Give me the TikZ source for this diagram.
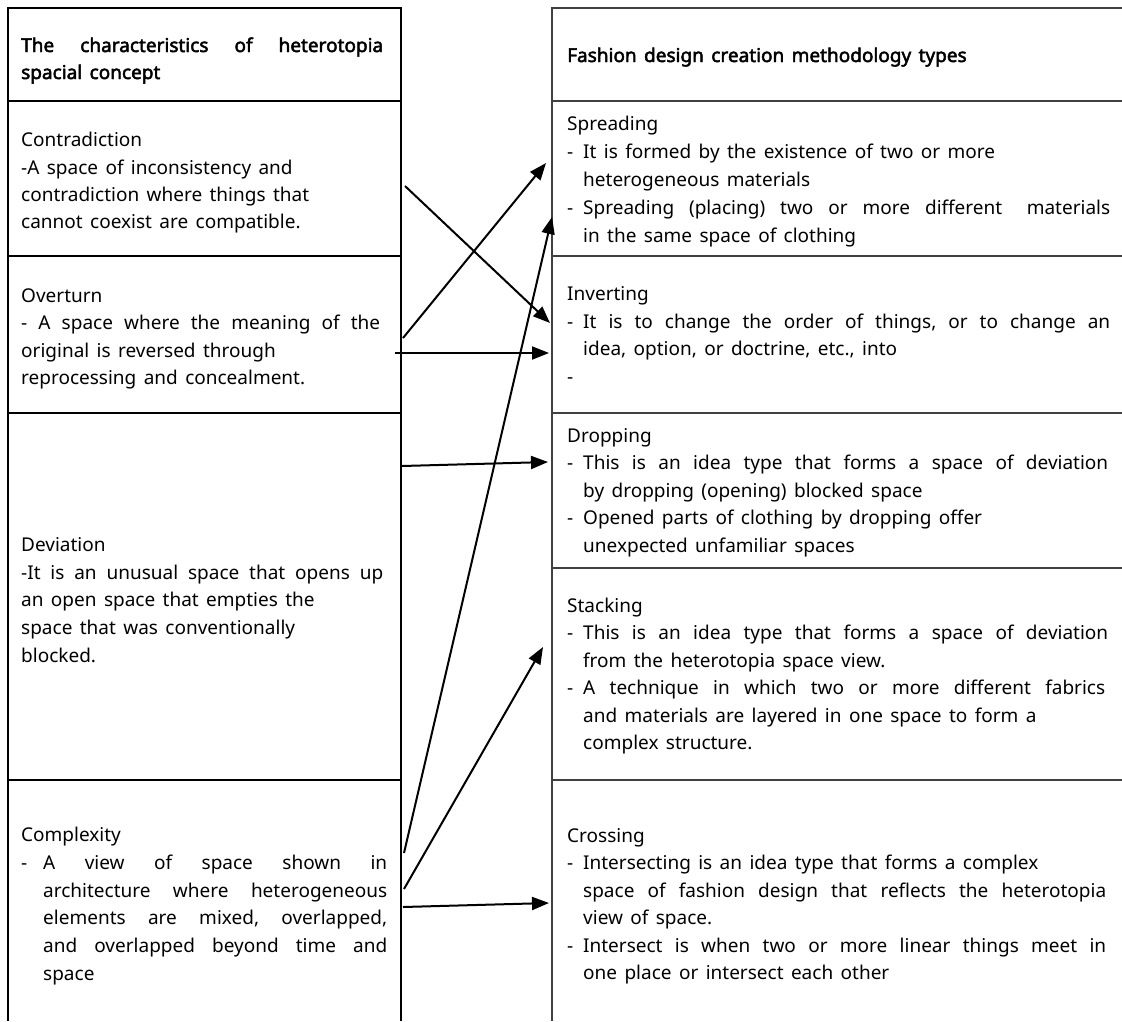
\documentclass[tikz,border=0pt]{standalone}
\usepackage{fontspec}
\setmainfont{Noto Sans}
\newfontfamily\hdfont{Noto Sans}[FakeBold=2.5]
\usetikzlibrary{arrows.meta}
\newcounter{tlc}
\newcommand\myglue{\hskip 7.4pt plus 4pt minus 1pt\relax}
\ExplSyntaxOn
\NewDocumentCommand \spfix { m }
  {
    \tl_set:Nn \l_tmpa_tl { #1 }
    \tl_replace_all:Nnn \l_tmpa_tl { ~ } { \myglue }
    \tl_use:N \l_tmpa_tl
  }
\ExplSyntaxOff
\newcommand\hd{\hdfont}
\newcommand\tline[3]{\stepcounter{tlc}\node[txt] (t\arabic{tlc}) at (#1,#2+6) {\spfix{#3}};}
\newcommand\tjust[4]{\stepcounter{tlc}\node[txt] (t\arabic{tlc}) at (#1,#2+6) {\makebox[#3pt][s]{\spfix{#4}}};}
\begin{document}
\begin{tikzpicture}[x=1pt,y=-1pt,
  txt/.style={anchor=base west, inner sep=0pt, font=\fontsize{19}{27}\selectfont},
  ltab/.style={line width=1.1pt, black},
  rtab/.style={line width=1.1pt, black!75},
  arr/.style={line width=2pt, -{Triangle[length=17pt,width=13pt]}}]
\useasboundingbox (0,0) rectangle (1122,1021);
% left table
\draw[ltab] (8,1021) -- (8,8) -- (401,8) -- (401,1021);
\foreach \yy in {101,256,413,780} \draw[ltab] (8,\yy) -- (401,\yy);
% right table
\draw[rtab] (552,1021) -- (552,8) -- (1122,8);
\foreach \yy in {101,256,413,568,780} \draw[rtab] (552,\yy) -- (1122,\yy);
% left header
\tjust{21}{46}{362}{\hd The characteristics of heterotopia}
\tline{21}{73}{\hd spacial concept}
% Contradiction
\tline{21}{140}{Contradiction}
\tline{21}{168}{-A space of inconsistency and}
\tline{21}{195}{contradiction where things that}
\tline{21}{222}{cannot coexist are compatible.}
% Overturn
\tline{21}{296}{Overturn}
\tjust{21}{323}{359}{- A space where the meaning of the}
\tline{21}{351}{original is reversed through}
\tline{21}{378}{reprocessing and concealment.}
% Deviation
\tline{21}{545}{Deviation}
\tjust{21}{573}{362}{-It is an unusual space that opens up}
\tline{21}{600}{an open space that empties the}
\tline{21}{628}{space that was conventionally}
\tline{21}{656}{blocked.}
% Complexity
\tline{21}{835}{Complexity}
\tline{21}{863}{-}
\tjust{43}{863}{344}{A view of space shown in}
\tjust{43}{891}{344}{architecture where heterogeneous}
\tjust{43}{918}{344}{elements are mixed, overlapped,}
\tjust{43}{946}{344}{and overlapped beyond time and}
\tline{43}{974}{space}
% right header
\tline{567}{56}{\hd Fashion design creation methodology types}
% Spreading
\tline{567}{124}{Spreading}
\tline{567}{152}{-}\tline{583}{152}{It is formed by the existence of two or more}
\tline{583}{180}{heterogeneous materials}
\tline{567}{208}{-}\tjust{583}{208}{527}{Spreading (placing) two or more different \ materials}
\tline{583}{236}{in the same space of clothing}
% Inverting
\tline{567}{294}{Inverting}
\tline{567}{322}{-}\tjust{583}{322}{527}{It is to change the order of things, or to change an}
\tline{583}{349}{idea, option, or doctrine, etc., into}
\tline{567}{377}{-}
% Dropping
\tline{567}{436}{Dropping}
\tline{567}{463}{-}\tjust{583}{463}{525}{This is an idea type that forms a space of deviation}
\tline{583}{491}{by dropping (opening) blocked space}
\tline{567}{518}{-}\tline{583}{518}{Opened parts of clothing by dropping offer}
\tline{583}{546}{unexpected unfamiliar spaces}
% Stacking
\tline{567}{606}{Stacking}
\tline{567}{633}{-}\tjust{583}{633}{525}{This is an idea type that forms a space of deviation}
\tline{583}{661}{from the heterotopia space view.}
\tline{567}{688}{-}\tjust{583}{688}{522}{A technique in which two or more different fabrics}
\tline{583}{716}{and materials are layered in one space to form a}
\tline{583}{743}{complex structure.}
% Crossing
\tline{567}{836}{Crossing}
\tline{567}{863}{-}\tline{583}{863}{Intersecting is an idea type that forms a complex}
\tjust{583}{891}{523}{space of fashion design that reflects the heterotopia}
\tline{583}{918}{view of space.}
\tline{567}{946}{-}\tjust{583}{946}{523}{Intersect is when two or more linear things meet in}
\tline{583}{973}{one place or intersect each other}
% arrow end points
\coordinate (a1s) at (405,186); \coordinate (a1e) at (550,323);
\coordinate (a2s) at (403,338); \coordinate (a2e) at (546,163);
\coordinate (a3s) at (395,353); \coordinate (a3e) at (549,353);
\coordinate (a4s) at (402,466); \coordinate (a4e) at (548,462);
\coordinate (a5s) at (404,853); \coordinate (a5e) at (552,217);
\coordinate (a6s) at (404,889); \coordinate (a6e) at (543,647);
\coordinate (a7s) at (403,907); \coordinate (a7e) at (549,903);
\draw[arr] (a1s) -- (a1e);
\draw[arr] (a2s) -- (a2e);
\draw[arr] (a3s) -- (a3e);
\draw[arr] (a4s) -- (a4e);
\draw[arr] (a5s) -- (a5e);
\draw[arr] (a6s) -- (a6e);
\draw[arr] (a7s) -- (a7e);
\end{tikzpicture}
\end{document}
